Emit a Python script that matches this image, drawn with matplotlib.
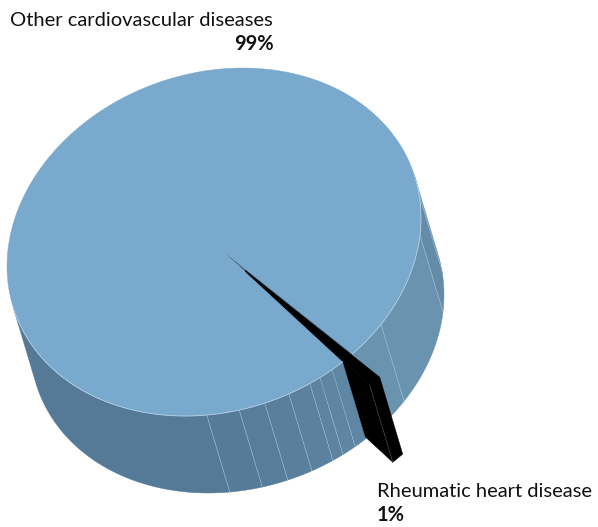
import numpy as np
import matplotlib.pyplot as plt
from matplotlib.patches import Polygon

plt.rcParams['font.family'] = ['Lato', 'DejaVu Sans']

labels = ["Other cardiovascular diseases", "Rheumatic heart disease"]
shares = [99, 1]
slice_start = 48.0

# side facets of the big slice, in ellipse degrees
right_edges = [-14, -8, 5.7, 36.2]
right_colors = ["#6a91ae", "#648ba8", "#6a93b0"]
left_edges = [55.2, 59.2, 62.4, 68.8, 75.8, 83, 92, 166]
left_colors = ["#5f86a3", "#5e85a2", "#5d83a0", "#5b819e", "#5a7f9c", "#587d9a", "#567b98", "#547a97"]

top_color = "#7aa9ce"
rim_color = "#b4d0e6"
line_color = "#a9c3d6"

center = np.array([214.0, 242.0])
apex = np.array([218.0, 247.0])
depth = np.array([23.0, 77.0])
explode = 0.21


def rim(t):
    t = np.radians(np.atleast_1d(t))
    x = center[0] + 207 * np.cos(t)
    y = center[1] + 174 * np.sin(t - np.radians(8))
    return np.column_stack([x, y])


fig = plt.figure(figsize=(5.98, 5.27), dpi=100)
ax = fig.add_axes([0, 0, 1, 1])
ax.set_xlim(0, 598)
ax.set_ylim(527, 0)
ax.axis("off")


def add_poly(pts, color, z, **kw):
    ax.add_patch(Polygon(pts, closed=True, facecolor=color, edgecolor=kw.pop("edge", color),
                         linewidth=kw.pop("lw", 0.3), zorder=z))


def side(t0, t1, color, z):
    top = rim(np.linspace(t0, t1, 60))
    add_poly(np.vstack([top, (top + depth)[::-1]]), color, z)


def facet_line(t, z):
    p = rim(t)[0]
    ax.plot([p[0], p[0] + depth[0]], [p[1], p[1] + depth[1]], color=line_color, lw=0.4, zorder=z)


span = shares[1] * 360 / sum(shares)
a, b = slice_start + span, slice_start
rim_a, rim_b = rim(a)[0], rim(b)[0]
mid = rim((a + b) / 2)[0]
shift = (mid - apex) * explode

# right side, behind the pulled out slice
for i, col in enumerate(right_colors):
    side(right_edges[i], right_edges[i + 1], col, 1)
side(right_edges[-1], a, right_colors[-1], 1)
for t in right_edges[1:]:
    facet_line(t, 1.5)

# gap left in the top face
add_poly([apex, rim_a, rim_b], "#4f6f88", 2)

# pulled out slice
apex2 = apex + shift
a2, b2 = rim_a + shift, rim_b + shift
add_poly([apex2, a2, a2 + depth, apex2 + depth], "black", 3)
add_poly([a2, b2, b2 + depth, a2 + depth], "black", 3)

# left side, in front of the slice
side(a, left_edges[0], left_colors[0], 4)
for i, col in enumerate(left_colors[1:]):
    side(left_edges[i], left_edges[i + 1], col, 4)
for t in left_edges[:-1]:
    facet_line(t, 4.5)

# top face, pale edge only where it meets the side
top_rim = rim(np.linspace(a, b + 360, 400))
add_poly(np.vstack([apex, top_rim]), top_color, 5, edge=top_color)
for t0, t1 in [(a, 166), (-14, b)]:
    edge = rim(np.linspace(t0, t1, 150))
    ax.plot(edge[:, 0], edge[:, 1], color=rim_color, lw=0.6, zorder=5.5)

add_poly([apex2, a2, b2], "black", 6)
ax.plot([a2[0], a2[0] + depth[0]], [a2[1], a2[1] + depth[1]], color="#555555", lw=0.4, zorder=6)

ax.text(10, 26, labels[0], fontsize=14.5, color="#111111", va="baseline", ha="left")
ax.text(274, 50, f"{shares[0]}%", fontsize=14.5, fontweight="bold", color="#111111", va="baseline", ha="right")
ax.text(377, 497, labels[1], fontsize=14.5, color="#111111", va="baseline", ha="left")
ax.text(377, 521, f"{shares[1]}%", fontsize=14.5, fontweight="bold", color="#111111", va="baseline", ha="left")

fig.savefig("out.png", dpi=100)
